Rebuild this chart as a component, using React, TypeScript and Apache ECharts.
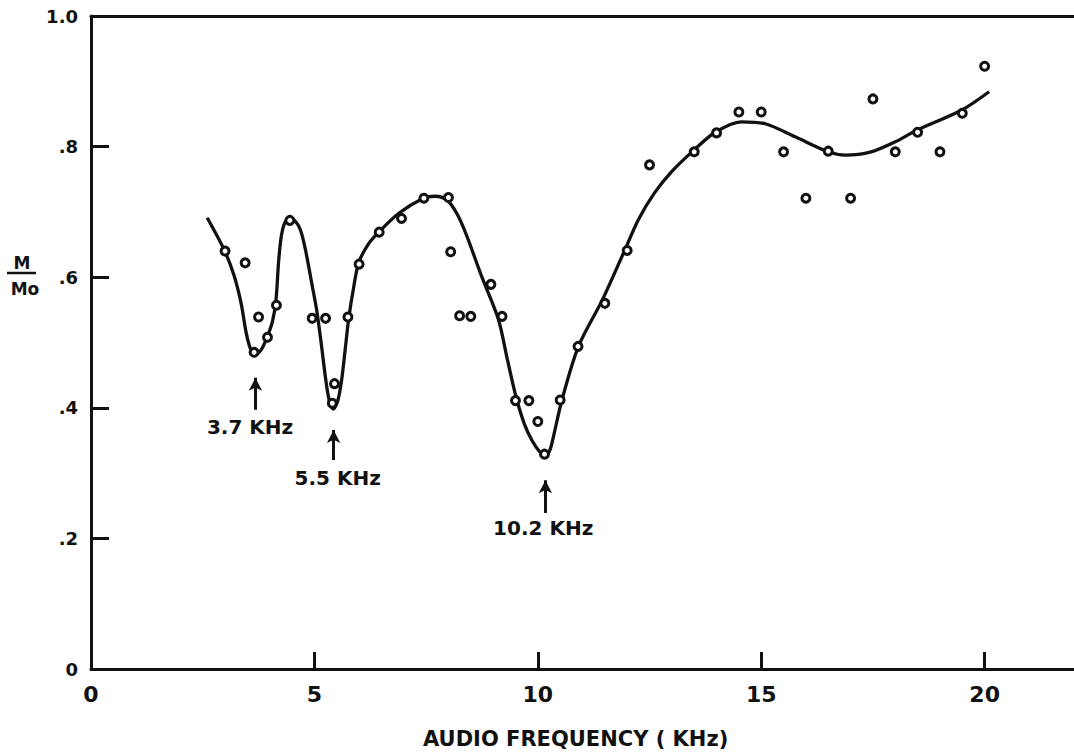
import React, { useEffect, useRef } from "react";
import * as echarts from "echarts";

// Measured points (open circles)
const pointFreq = [
  3.0, 3.45, 3.75, 3.65, 3.95, 4.15, 4.45, 4.95, 5.25, 5.45, 5.4, 5.75, 6.0, 6.45,
  6.95, 7.45, 8.0, 8.05, 8.25, 8.5, 8.95, 9.2, 9.5, 9.8, 10.0, 10.15, 10.5, 10.9,
  11.5, 12.0, 12.5, 13.5, 14.0, 14.5, 15.0, 15.5, 16.0, 16.5, 17.0, 17.5, 18.0,
  18.5, 19.0, 19.5, 20.0,
];
const pointRatio = [
  0.64, 0.622, 0.539, 0.485, 0.508, 0.557, 0.687, 0.537, 0.537, 0.437, 0.407, 0.539,
  0.62, 0.669, 0.69, 0.721, 0.722, 0.639, 0.541, 0.54, 0.589, 0.54, 0.411, 0.411,
  0.379, 0.329, 0.412, 0.494, 0.56, 0.641, 0.772, 0.792, 0.821, 0.853, 0.853, 0.792,
  0.721, 0.793, 0.721, 0.873, 0.792, 0.822, 0.792, 0.851, 0.923,
];

// Hand-drawn fitted curve, read along its path
const curveFreq = [
  2.6, 2.98, 3.2, 3.36, 3.47, 3.57, 3.66, 3.8, 3.94, 4.06, 4.14, 4.2, 4.26, 4.34,
  4.45, 4.57, 4.69, 4.8, 4.94, 5.05, 5.15, 5.25, 5.33, 5.42, 5.52, 5.61, 5.69, 5.77,
  5.88, 5.99, 6.2, 6.44, 6.89, 7.44, 7.7, 7.97, 8.2, 8.4, 8.75, 9.12, 9.3, 9.5, 9.7,
  9.87, 10.05, 10.17, 10.27, 10.35, 10.54, 10.91, 11.45, 11.95, 12.25, 12.6,
  13.0, 13.5, 13.97, 14.55, 15.09, 15.76, 16.5, 16.88, 17.46, 17.99, 18.48, 19.49,
  20.1,
];
const curveRatio = [
  0.691, 0.642, 0.603, 0.56, 0.516, 0.49, 0.481, 0.488, 0.508, 0.532, 0.565, 0.625,
  0.663, 0.684, 0.691, 0.686, 0.672, 0.642, 0.591, 0.55, 0.5, 0.445, 0.412, 0.398,
  0.41, 0.443, 0.49, 0.538, 0.585, 0.622, 0.65, 0.669, 0.698, 0.721, 0.724, 0.718,
  0.696, 0.665, 0.6, 0.535, 0.48, 0.42, 0.375, 0.35, 0.332, 0.326, 0.335, 0.356,
  0.412, 0.494, 0.566, 0.642, 0.688, 0.728, 0.762, 0.795, 0.822, 0.838, 0.835,
  0.815, 0.792, 0.787, 0.792, 0.807, 0.825, 0.856, 0.884,
];

// Annotations (resonance dips)
const annotText = ["3.7 KHz", "5.5 KHz", "10.2 KHz"];
const arrowFreq = [3.68, 5.43, 10.17];
const arrowBottom = [0.397, 0.32, 0.239];
const arrowTop = [0.446, 0.366, 0.289];
const labelFreq = [3.56, 5.52, 10.12];
const labelRatio = [0.371, 0.293, 0.216];

// Axis ticks
const xLabelValues = [0, 5, 10, 15, 20];
const xTickValues = [5, 10, 15, 20];
const yLabelValues = [0, 0.2, 0.4, 0.6, 0.8, 1.0];
const yTickLabels = ["0", ".2", ".4", ".6", ".8", "1.0"];
const yTickValues = [0.2, 0.4, 0.6, 0.8];

const INK = "#111";
const FONT = "DejaVu Sans";

export default function App() {
  const ref = useRef<HTMLDivElement>(null);

  useEffect(() => {
    if (!ref.current) return;
    const chart = echarts.init(ref.current, undefined, { renderer: "svg" });

    const points = pointFreq.map((f, i) => [f, pointRatio[i]]);
    const curve = curveFreq.map((f, i) => [f, curveRatio[i]]);
    const labels = labelFreq.map((f, i) => [f, labelRatio[i], annotText[i]]);
    const arrows = arrowFreq.map((f, i) => [
      { coord: [f, arrowBottom[i]] },
      { coord: [f, arrowTop[i]] },
    ]);

    chart.setOption({
      animation: false,
      backgroundColor: "#fff",
      grid: { left: 91, top: 16, width: 984, height: 653 },
      xAxis: [
        {
          type: "value",
          min: 0,
          max: 22,
          interval: 5,
          axisLine: { show: true, lineStyle: { color: INK, width: 3 } },
          axisTick: {
            show: true,
            inside: true,
            length: 17,
            customValues: xTickValues,
            lineStyle: { color: INK, width: 3 },
          },
          splitLine: { show: false },
          axisLabel: {
            margin: 14,
            color: INK,
            fontFamily: FONT,
            fontWeight: "bold",
            fontSize: 22,
            customValues: xLabelValues,
            formatter: (v: number) => String(v),
          },
        },
        {
          type: "value",
          position: "top",
          min: 0,
          max: 22,
          axisLine: { show: true, lineStyle: { color: INK, width: 3 } },
          axisTick: { show: false },
          axisLabel: { show: false },
          splitLine: { show: false },
        },
      ],
      yAxis: {
        type: "value",
        min: 0,
        max: 1,
        interval: 0.2,
        axisLine: { show: true, lineStyle: { color: INK, width: 3 } },
        axisTick: {
          show: true,
          inside: true,
          length: 18,
          customValues: yTickValues,
          lineStyle: { color: INK, width: 3 },
        },
        splitLine: { show: false },
        axisLabel: {
          margin: 13,
          color: INK,
          fontFamily: FONT,
          fontWeight: "bold",
          fontSize: 18,
          customValues: yLabelValues,
          formatter: (v: number) => {
            const idx = yLabelValues.findIndex((t) => Math.abs(t - v) < 1e-6);
            return idx >= 0 ? yTickLabels[idx] : "";
          },
        },
      },
      graphic: [
        {
          type: "text",
          left: 423,
          top: 728,
          style: {
            text: "AUDIO FREQUENCY ( KHz)",
            fill: INK,
            font: `bold 21px "${FONT}"`,
          },
        },
        {
          type: "text",
          x: 22,
          y: 263,
          style: {
            text: "M",
            fill: INK,
            font: `bold 17px "${FONT}"`,
            align: "center",
            verticalAlign: "middle",
          },
        },
        {
          type: "line",
          shape: { x1: 7, y1: 273, x2: 36, y2: 273 },
          style: { stroke: INK, lineWidth: 2.5 },
        },
        {
          type: "text",
          x: 25,
          y: 289,
          style: {
            text: "Mo",
            fill: INK,
            font: `bold 17px "${FONT}"`,
            align: "center",
            verticalAlign: "middle",
          },
        },
      ],
      series: [
        {
          type: "line",
          data: curve,
          smooth: 0.3,
          showSymbol: false,
          symbol: "none",
          lineStyle: { color: INK, width: 3.3 },
          z: 2,
          silent: true,
          markLine: {
            silent: true,
            symbol: ["none", "arrow"],
            symbolSize: [10, 13],
            label: { show: false },
            lineStyle: { color: INK, width: 3, type: "solid" },
            data: arrows,
          },
        },
        {
          type: "scatter",
          data: points,
          symbol: "circle",
          symbolSize: 8,
          itemStyle: { color: "#fff", borderColor: INK, borderWidth: 3, opacity: 1 },
          z: 3,
          silent: true,
        },
        {
          type: "scatter",
          data: labels,
          symbolSize: 0,
          itemStyle: { color: "transparent", opacity: 1 },
          silent: true,
          z: 4,
          label: {
            show: true,
            position: "inside",
            align: "center",
            verticalAlign: "middle",
            color: INK,
            fontFamily: FONT,
            fontWeight: "bold",
            fontSize: 20,
            formatter: (p: any) => p.data[2],
          },
        },
      ],
    });

    return () => chart.dispose();
  }, []);

  return (
    <div
      ref={ref}
      style={{ position: "fixed", left: 0, top: 0, width: 1074, height: 755, background: "#fff" }}
    />
  );
}
